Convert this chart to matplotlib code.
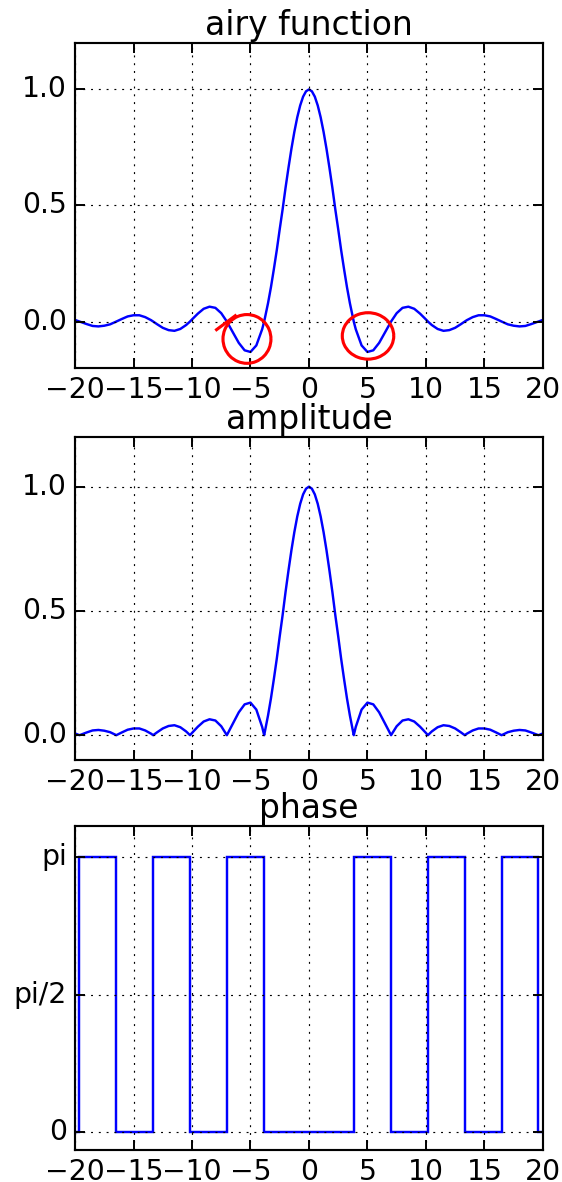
import numpy as np
import matplotlib
matplotlib.use("Agg")
import matplotlib.pyplot as plt
from matplotlib.patches import Arc

plt.style.use("classic")

# ---- data ----
x_vals = [-20, -19.62, -19.5, -19, -18.5, -18, -17.5, -17, -16.47, -16, -15.5, -15, -14.5, -14,
          -13.5, -13.32, -13, -12.5, -12, -11.5, -11, -10.5, -10.17, -10, -9.5, -9, -8.5, -8,
          -7.5, -7.02, -6.5, -6, -5.5, -5, -4.5, -4, -3.83, -3.75, -3.5, -3.25, -3, -2.75, -2.5,
          -2.25, -2, -1.75, -1.5, -1.25, -1, -0.75, -0.5, -0.25, 0,
          0.25, 0.5, 0.75, 1, 1.25, 1.5, 1.75, 2, 2.25, 2.5, 2.75, 3, 3.25, 3.5, 3.75, 3.83,
          4, 4.5, 5, 5.5, 6, 6.5, 7.02, 7.5, 8, 8.5, 9, 9.5, 10, 10.17, 10.5, 11, 11.5, 12,
          12.5, 13, 13.32, 13.5, 14, 14.5, 15, 15.5, 16, 16.47, 17, 17.5, 18, 18.5, 19, 19.5,
          19.62, 20]
airy_vals = [0.007, 0.0, -0.002, -0.011, -0.019, -0.021, -0.018, -0.012, 0.0, 0.011, 0.022, 0.027,
             0.027, 0.019, 0.006, 0.0, -0.011, -0.027, -0.037, -0.040, -0.032, -0.015, 0.0, 0.009,
             0.034, 0.055, 0.064, 0.059, 0.036, 0.0, -0.047, -0.092, -0.124, -0.131, -0.103,
             -0.033, 0.0, 0.019, 0.079, 0.148, 0.226, 0.308, 0.398, 0.484, 0.577, 0.663, 0.744,
             0.817, 0.880, 0.931, 0.969, 0.992, 1.0,
             0.992, 0.969, 0.931, 0.880, 0.817, 0.744, 0.663, 0.577, 0.484, 0.398, 0.308, 0.226,
             0.148, 0.079, 0.019, 0.0, -0.033, -0.103, -0.131, -0.124, -0.092, -0.047, 0.0, 0.036,
             0.059, 0.064, 0.055, 0.034, 0.009, 0.0, -0.015, -0.032, -0.040, -0.037, -0.027,
             -0.011, 0.0, 0.006, 0.019, 0.027, 0.027, 0.022, 0.011, 0.0, -0.012, -0.018, -0.021,
             -0.019, -0.011, -0.002, 0.0, 0.007]
amp_vals = [abs(v) for v in airy_vals]

phase_edges = [-20, -19.62, -16.47, -13.32, -10.17, -7.02, -3.83, 3.83, 7.02, 10.17, 13.32,
               16.47, 19.62, 20]
phase_levels = [0, np.pi, 0, np.pi, 0, np.pi, 0, np.pi, 0, np.pi, 0, np.pi, 0]

x_ticks = [-20, -15, -10, -5, 0, 5, 10, 15, 20]
y_ticks_val = [0.0, 0.5, 1.0]
phase_ticks = [0, np.pi / 2, np.pi]
phase_tick_labels = ["0", "pi/2", "pi"]
titles = ["airy function", "amplitude", "phase"]

# hand-drawn red marks (centre x, centre y, width, height)
marks = [(-5.3, -0.075, 4.1, 0.21), (5.05, -0.062, 4.4, 0.20)]

# ---- figure ----
DPI = 140
fig = plt.figure(figsize=(562 / DPI, 1182 / DPI), dpi=DPI)
fig.patch.set_facecolor("white")

left, width = 0.1335, 0.8325
boxes = [(0.6887, 0.2749), (0.3570, 0.2733), (0.0271, 0.2741)]
axes = [fig.add_axes([left, b, width, h]) for b, h in boxes]

title_size = 17
tick_size = 14.5
line_w = 1.25

ax1, ax2, ax3 = axes
ax1.plot(x_vals, airy_vals, color="b", lw=line_w)
ax1.set_ylim(-0.2, 1.2)
ax1.set_yticks(y_ticks_val)
ax1.set_yticklabels(["0.0", "0.5", "1.0"])

ax2.plot(x_vals, amp_vals, color="b", lw=line_w)
ax2.set_ylim(-0.1, 1.2)
ax2.set_yticks(y_ticks_val)
ax2.set_yticklabels(["0.0", "0.5", "1.0"])

ax3.stairs(phase_levels, phase_edges, baseline=None, color="b", lw=line_w)
ax3.set_ylim(-0.2, 3.5)
ax3.set_yticks(phase_ticks)
ax3.set_yticklabels(phase_tick_labels)

for ax, t in zip(axes, titles):
    ax.set_xlim(-20, 20)
    ax.set_xticks(x_ticks)
    ax.set_xticklabels([str(v).replace("-", "\u2212") for v in x_ticks])
    ax.grid(True, color="k", linestyle=":", linewidth=0.6)
    ax.tick_params(labelsize=tick_size, width=1.0, length=5)
    ax.tick_params(axis="x", pad=4)
    for s in ax.spines.values():
        s.set_linewidth(1.1)
    ax.set_title(t, fontsize=title_size, pad=4)

for cx, cy, w, h in marks:
    ax1.add_patch(Arc((cx, cy), w, h, theta1=0, theta2=360, color="red", lw=1.6, zorder=5))
ax1.plot([-7.9, -6.3], [-0.035, 0.025], color="red", lw=1.6, zorder=5)

fig.savefig("out.png", dpi=DPI, facecolor="white")
